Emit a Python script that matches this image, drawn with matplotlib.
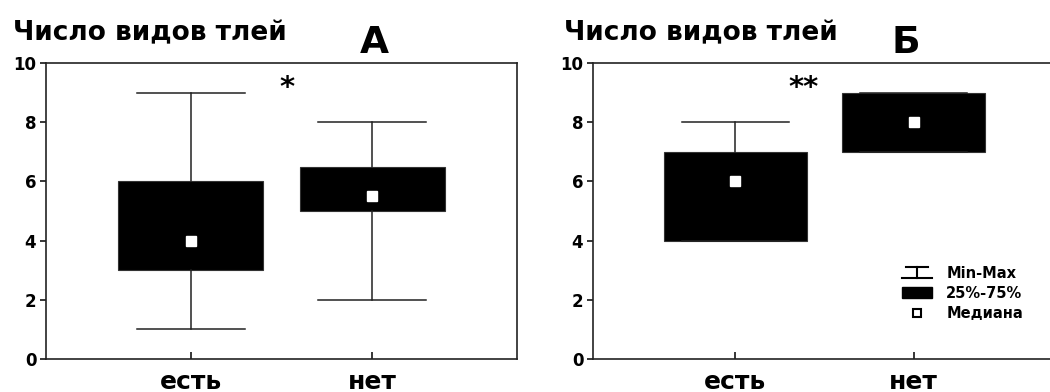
import matplotlib
matplotlib.use('Agg')
import matplotlib.pyplot as plt
from matplotlib.lines import Line2D
from matplotlib.patches import Patch
from matplotlib.legend_handler import HandlerBase

plt.rcParams['font.family'] = ['DejaVu Sans']
plt.rcParams['font.weight'] = 'bold'

# данные: число видов тлей (мин, 25%, медиана, 75%, макс)
groups = ['есть', 'нет']
a_min = [1, 2]
a_q1 = [3, 5]
a_med = [4, 5.5]
a_q3 = [6, 6.5]
a_max = [9, 8]

b_min = [4, 7]
b_q1 = [4, 7]
b_med = [6, 8]
b_q3 = [7, 9]
b_max = [8, 9]

y_ticks = [0, 2, 4, 6, 8, 10]
ylabel_text = 'Число видов тлей'
panel_names = ['А', 'Б']
stars = ['*', '**']
star_x = [1.53, 1.38]
star_y = [9.15, 9.15]


class HandlerMinMax(HandlerBase):
    # значок "工" для размаха
    def create_artists(self, legend, orig_handle, xdescent, ydescent,
                       width, height, fontsize, trans):
        x0, x1 = -xdescent, -xdescent + width
        y0, y1 = -ydescent, -ydescent + height
        xc = (x0 + x1) / 2
        lines = [
            Line2D([x0 + 0.12 * width, x1 - 0.12 * width], [y1, y1]),
            Line2D([xc, xc], [y0, y1]),
            Line2D([x0, x1], [y0, y0]),
        ]
        for l in lines:
            l.set_color('black')
            l.set_linewidth(1.5)
            l.set_transform(trans)
        return lines


def draw_panel(ax, mins, q1, med, q3, maxs):
    stats = []
    for i in range(len(groups)):
        stats.append(dict(label=groups[i], whislo=mins[i], q1=q1[i], med=med[i],
                          q3=q3[i], whishi=maxs[i], fliers=[]))
    pos = list(range(1, len(groups) + 1))
    ax.bxp(stats, positions=pos, widths=0.8, capwidths=0.6, patch_artist=True,
           showfliers=False,
           boxprops=dict(facecolor='black', edgecolor='#333333', linewidth=0.8),
           whiskerprops=dict(color='#222222', linewidth=1.1),
           capprops=dict(color='#222222', linewidth=1.1),
           medianprops=dict(linestyle='none'))
    ax.plot(pos, med, linestyle='none', marker='s', markersize=6.5,
            markerfacecolor='white', markeredgecolor='white', zorder=5)
    ax.set_xlim(0.2, 2.8)
    ax.set_ylim(0, 10)
    ax.set_yticks(y_ticks)
    ax.set_xticks(pos)
    ax.set_xticklabels(groups, fontsize=18, fontweight='bold')
    ax.tick_params(axis='x', direction='in', length=5, width=1.1, pad=8)
    ax.tick_params(axis='y', direction='out', length=4, width=1.1, pad=3,
                   labelsize=12)
    for s in ax.spines.values():
        s.set_linewidth(1.2)
        s.set_color('#222222')


fig = plt.figure(figsize=(10.5, 3.92), dpi=100)
axA = fig.add_axes([46 / 1050, 33 / 392, 471 / 1050, 296 / 392])
axB = fig.add_axes([593 / 1050, 33 / 392, 463 / 1050, 296 / 392])

draw_panel(axA, a_min, a_q1, a_med, a_q3, a_max)
draw_panel(axB, b_min, b_q1, b_med, b_q3, b_max)

for ax, st, sx, sy in zip([axA, axB], stars, star_x, star_y):
    ax.text(sx, sy, st, ha='center', va='center', fontsize=21, fontweight='bold')

# заголовки
fig.text(13 / 1050, 1 - 40 / 392, ylabel_text, fontsize=19, fontweight='bold',
         ha='left', va='baseline')
fig.text(564 / 1050, 1 - 40 / 392, ylabel_text, fontsize=19, fontweight='bold',
         ha='left', va='baseline')
fig.text(374 / 1050, 1 - 53 / 392, panel_names[0], fontsize=27, fontweight='bold',
         ha='center', va='baseline')
fig.text(906 / 1050, 1 - 53 / 392, panel_names[1], fontsize=27, fontweight='bold',
         ha='center', va='baseline')

handles = [Line2D([], []),
           Patch(facecolor='black', edgecolor='black'),
           Line2D([], [], linestyle='none', marker='s', markersize=6,
                  markerfacecolor='white', markeredgecolor='black',
                  markeredgewidth=1.5)]
labels = ['Min-Max', '25%-75%', 'Медиана']
axB.legend(handles, labels, handler_map={handles[0]: HandlerMinMax()},
           loc='upper left', bbox_to_anchor=(0.64, 0.36), frameon=False,
           prop=dict(size=10.5, weight='bold'), handlelength=2.0,
           handleheight=0.7, handletextpad=1.0, labelspacing=0.35)

fig.savefig('out.png', dpi=100)
